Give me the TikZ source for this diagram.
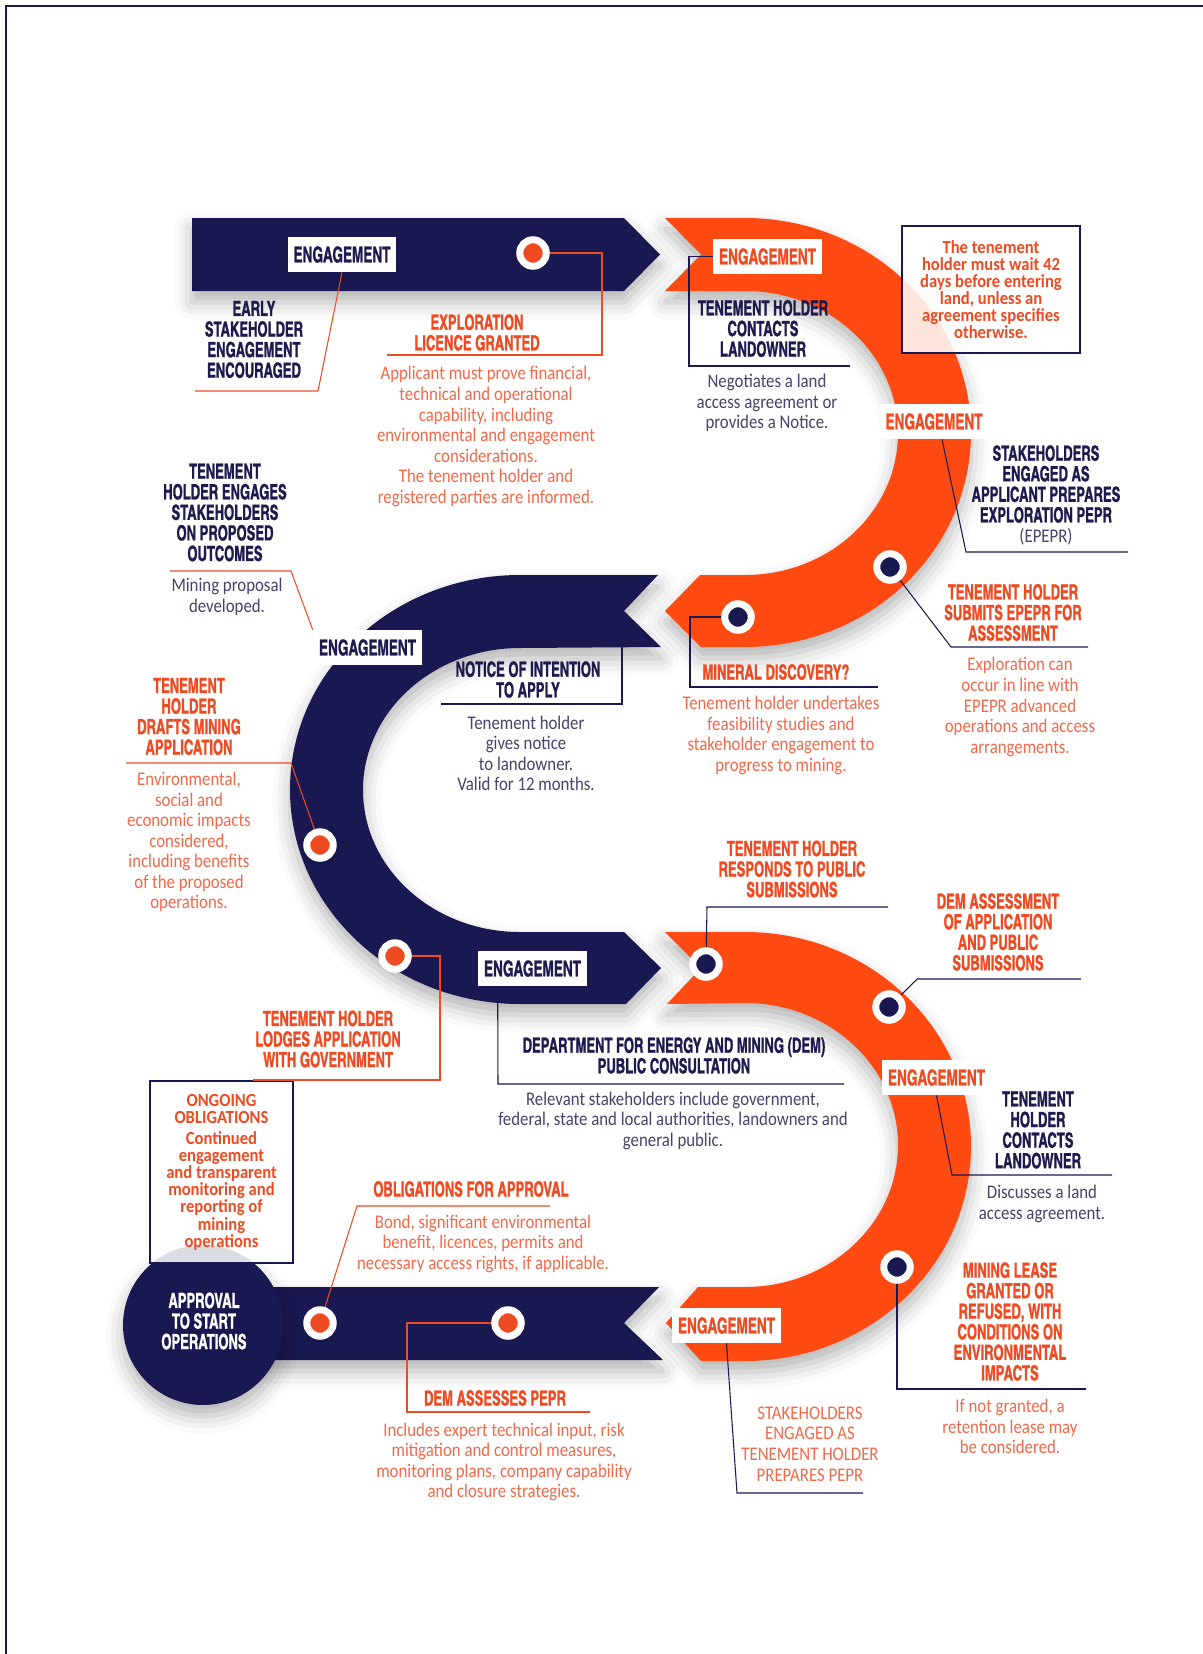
\documentclass[tikz,border=0pt]{standalone}
\usepackage{fontspec}
\setmainfont{Carlito}
\newfontfamily\headfont{texgyreheroscn-bold.otf}[FakeStretch=0.76, FakeBold=1.0]
\newfontfamily\bodyfont{Carlito}[FakeStretch=0.87]
\newfontfamily\boxfont{Carlito}[FakeStretch=0.9]
\usetikzlibrary{shadows.blur}

\definecolor{navyband}{HTML}{1A1851}
\definecolor{orangeband}{HTML}{FF4A12}
\definecolor{headorange}{HTML}{EE4B22}
\definecolor{bodyorange}{HTML}{F2684A}
\definecolor{headnavy}{HTML}{1D1A4E}
\definecolor{bodynavy}{HTML}{45436B}

\begin{document}
\begin{tikzpicture}[x=0.02cm, y=-0.02cm,
    bandshadow/.style={blur shadow={shadow xshift=0pt, shadow yshift=-0.22cm, shadow blur radius=0.35cm, shadow opacity=30}},
    head/.style={font=\headfont\fontsize{11.9}{11.7}\selectfont, align=center, inner sep=0pt},
    headN/.style={head, text=headnavy},
    headO/.style={head, text=headorange},
    body/.style={font=\bodyfont\fontsize{11}{11.7}\selectfont, align=center, inner sep=0pt},
    bodyN/.style={body, text=bodynavy},
    bodyO/.style={body, text=bodyorange},
    engage/.style={fill=white, minimum width=2.18cm, minimum height=0.7cm, inner sep=0pt,
        font=\headfont\fontsize{12.4}{12}\selectfont},
    engN/.style={engage, text=headnavy},
    engO/.style={engage, text=headorange},
    markO/.style={circle, fill=headorange, draw=white, line width=0.14cm, minimum size=0.53cm, inner sep=0pt},
    markN/.style={markO, fill=navyband},
    infobox/.style={draw=navyband, line width=1.2pt, fill=white, fill opacity=0.85, text opacity=1,
        align=center, inner sep=0pt, text=headorange,
        font=\boxfont\bfseries\fontsize{10.5}{9.7}\selectfont},
    leadN/.style={draw=navyband, line width=0.6pt},
    leadO/.style={draw=headorange, line width=0.6pt}]

\useasboundingbox (0,0) rectangle (1203,1654);

% frame
\draw[navyband, line width=1.1pt] (6,1654) -- (6,6) -- (1203,6);

% the road
\fill[navyband, bandshadow] (192,218) -- (624,218) -- (660,254.5) -- (624,291) -- (192,291) -- cycle;
\fill[orangeband, bandshadow] (665,218) -- (745,218)
    arc[start angle=-90, end angle=90, x radius=226, y radius=214.5]
    -- (701,647) -- (665,611) -- (700,575) -- (745,575)
    arc[start angle=90, end angle=-90, x radius=153, y radius=142]
    -- (665,291) -- (701,254.5) -- cycle;
\fill[navyband, bandshadow] (658,575) -- (520,575)
    arc[start angle=270, end angle=90, x radius=230, y radius=214.5]
    -- (626,1004) -- (661,968) -- (624,932) -- (520,932)
    arc[start angle=90, end angle=270, x radius=157, y radius=142]
    -- (661,647) -- (624,611) -- cycle;
\fill[orangeband, bandshadow] (665,932) -- (745,932)
    arc[start angle=-90, end angle=90, x radius=226, y radius=214.5]
    -- (701,1361) -- (666,1323) -- (698,1287) -- (745,1287)
    arc[start angle=90, end angle=-90, x radius=153, y radius=142]
    -- (667,1004) -- (701,968) -- cycle;
\fill[navyband, bandshadow] (200,1287) -- (659,1287) -- (624,1323) -- (663,1360) -- (200,1360) -- cycle;

\node[circle, fill=navyband, minimum size=3.2cm, inner sep=0pt, bandshadow] (approval) at (203,1325) {};
\node[head, text=white] (approvalTxt) at (204,1321) {APPROVAL\\TO START\\OPERATIONS};

% boxes over the road
\node[infobox, minimum width=3.56cm, minimum height=2.54cm] (wait) at (991,289.5)
    {The tenement\\holder must wait 42\\days before entering\\land, unless an\\agreement specifies\\otherwise.};
\node[infobox, minimum width=2.86cm, minimum height=3.64cm] (ongoing) at (221.5,1172)
    {ONGOING\\OBLIGATIONS\\[2.6pt]Continued\\engagement\\and transparent\\monitoring and\\reporting of\\mining\\operations};

% milestones
\coordinate (p1) at (533,253);
\coordinate (p2) at (890,567);
\coordinate (p3) at (738,617);
\coordinate (p4) at (320,845);
\coordinate (p5) at (395,956);
\coordinate (p6) at (706,964);
\coordinate (p7) at (889,1007);
\coordinate (p8) at (897,1267);
\coordinate (p9) at (508,1323);
\coordinate (p10) at (320,1323);
\coordinate (noticeEnd) at (622,611);

% engagement tags
\node[engN] (e1) at (342,254.5) {ENGAGEMENT};
\node[engO] (e2) at (767.5,256.5) {ENGAGEMENT};
\node[engO] (e3) at (934,421.5) {ENGAGEMENT};
\node[engN] (e4) at (367.5,647.5) {ENGAGEMENT};
\node[engN] (e5) at (532.5,968.5) {ENGAGEMENT};
\node[engO] (e6) at (936.5,1077.5) {ENGAGEMENT};
\node[engO] (e7) at (726.5,1325.5) {ENGAGEMENT};

% texts
\node[headN] (early) at (254,339.5) {EARLY\\STAKEHOLDER\\ENGAGEMENT\\ENCOURAGED};
\node[headO] (licence) at (477,332.5) {EXPLORATION\\LICENCE GRANTED};
\node[bodyO] (licenceTxt) at (486,436.5) {Applicant must prove financial,\\technical and operational\\capability, including\\environmental and engagement\\considerations.\\The tenement holder and\\registered parties are informed.};
\node[headN] (contacts) at (763,328.5) {TENEMENT HOLDER\\CONTACTS\\LANDOWNER};
\node[bodyN] (contactsTxt) at (767,403) {Negotiates a land\\access agreement or\\provides a Notice.};
\node[headN] (epepr) at (1046,484) {STAKEHOLDERS\\ENGAGED AS\\APPLICANT PREPARES\\EXPLORATION PEPR};
\node[bodyN] (epeprTxt) at (1046,537) {(EPEPR)};
\node[headO] (submits) at (1013,612.5) {TENEMENT HOLDER\\SUBMITS EPEPR FOR\\ASSESSMENT};
\node[bodyO] (submitsTxt) at (1020,707) {Exploration can\\occur in line with\\EPEPR advanced\\operations and access\\arrangements.};
\node[headO] (mineral) at (776,672) {MINERAL DISCOVERY?};
\node[bodyO] (mineralTxt) at (781,735.5) {Tenement holder undertakes\\feasibility studies and\\stakeholder engagement to\\progress to mining.};
\node[headN] (notice) at (528,679.5) {NOTICE OF INTENTION\\TO APPLY};
\node[bodyN] (noticeTxt) at (526,753.5) {Tenement holder\\gives notice\\to landowner.\\Valid for 12 months.};
\node[headN] (engages) at (225,512.5) {TENEMENT\\HOLDER ENGAGES\\STAKEHOLDERS\\ON PROPOSED\\OUTCOMES};
\node[bodyN] (engagesTxt) at (227,597) {Mining proposal\\developed.};
\node[headO] (drafts) at (189,716.5) {TENEMENT\\HOLDER\\DRAFTS MINING\\APPLICATION};
\node[bodyO] (draftsTxt) at (189,842) {Environmental,\\social and\\economic impacts\\considered,\\including benefits\\of the proposed\\operations.};
\node[headO] (lodges) at (328,1039) {TENEMENT HOLDER\\LODGES APPLICATION\\WITH GOVERNMENT};
\node[headN] (dem) at (674,1055.5) {DEPARTMENT FOR ENERGY AND MINING (DEM)\\PUBLIC CONSULTATION};
\node[bodyN] (demTxt) at (673,1120.5) {Relevant stakeholders include government,\\federal, state and local authorities, landowners and\\general public.};
\node[headO] (responds) at (792,869) {TENEMENT HOLDER\\RESPONDS TO PUBLIC\\SUBMISSIONS};
\node[headO] (assessment) at (998,932) {DEM ASSESSMENT\\OF APPLICATION\\AND PUBLIC\\SUBMISSIONS};
\node[headN] (contacts2) at (1038,1130) {TENEMENT\\HOLDER\\CONTACTS\\LANDOWNER};
\node[bodyN] (contacts2Txt) at (1042,1204) {Discusses a land\\access agreement.};
\node[headO] (lease) at (1010,1321.5) {MINING LEASE\\GRANTED OR\\REFUSED, WITH\\CONDITIONS ON\\ENVIRONMENTAL\\IMPACTS};
\node[bodyO] (leaseTxt) at (1010,1426.5) {If not granted, a\\retention lease may\\be considered.};
\node[bodyO] (pepr) at (810,1444) {STAKEHOLDERS\\ENGAGED AS\\TENEMENT HOLDER\\PREPARES PEPR};
\node[headO] (assesses) at (495,1398) {DEM ASSESSES PEPR};
\node[bodyO] (assessesTxt) at (504,1462) {Includes expert technical input, risk\\mitigation and control measures,\\monitoring plans, company capability\\and closure strategies.};
\node[headO] (obligations) at (471,1189) {OBLIGATIONS FOR APPROVAL};
\node[bodyO] (obligationsTxt) at (483,1243.5) {Bond, significant environmental\\benefit, licences, permits and\\necessary access rights, if applicable.};

% leader lines
\draw[leadO] (e1.south) -- (318,391) -- (195,391);
\draw[leadO] (p1) -- (602,253) -- (602,355) -- (387,355);
\draw[leadN] (e2.west) -- (689,256.5) -- (689,366) -- (850,366);
\draw[leadN] ([xshift=0.16cm]e3.south) -- (966,552) -- (1128,552);
\draw[leadN] (p2) -- (951,647) -- (1088,647);
\draw[leadN] (p3) -- (690,617) -- (690,687) -- (878,687);
\draw[leadN] (noticeEnd) -- (622,704) -- (441,704);
\draw[leadO] (170,571) -- (291,571) -- (e4.north west);
\draw[leadO] (126,763) -- (291,763) -- (p4);
\draw[leadO] (p5) -- (440,956) -- (440,1080) -- (253,1080);
\draw[leadN] ([xshift=0.4cm]e5.south west) -- (498,1084) -- (844,1084);
\draw[leadN] (p6) -- (707,907) -- (888,907);
\draw[leadN] (p7) -- (917,979) -- (1081,979);
\draw[leadN] (e6.south) -- (952,1175) -- (1112,1175);
\draw[leadN] (p8) -- (897,1389) -- (1086,1389);
\draw[leadN] (e7.south) -- (737,1493) -- (863,1493);
\draw[leadO] (p9) -- (407,1323) -- (407,1412) -- (590,1412);
\draw[leadO] (p10) -- (357,1206) -- (550,1206);

% markers
\node[markO] (m1) at (p1) {};
\node[markN] (m2) at (p2) {};
\node[markN] (m3) at (p3) {};
\node[markO] (m4) at (p4) {};
\node[markO] (m5) at (p5) {};
\node[markN] (m6) at (p6) {};
\node[markN] (m7) at (p7) {};
\node[markN] (m8) at (p8) {};
\node[markO] (m9) at (p9) {};
\node[markO] (m10) at (p10) {};
\end{tikzpicture}
\end{document}
